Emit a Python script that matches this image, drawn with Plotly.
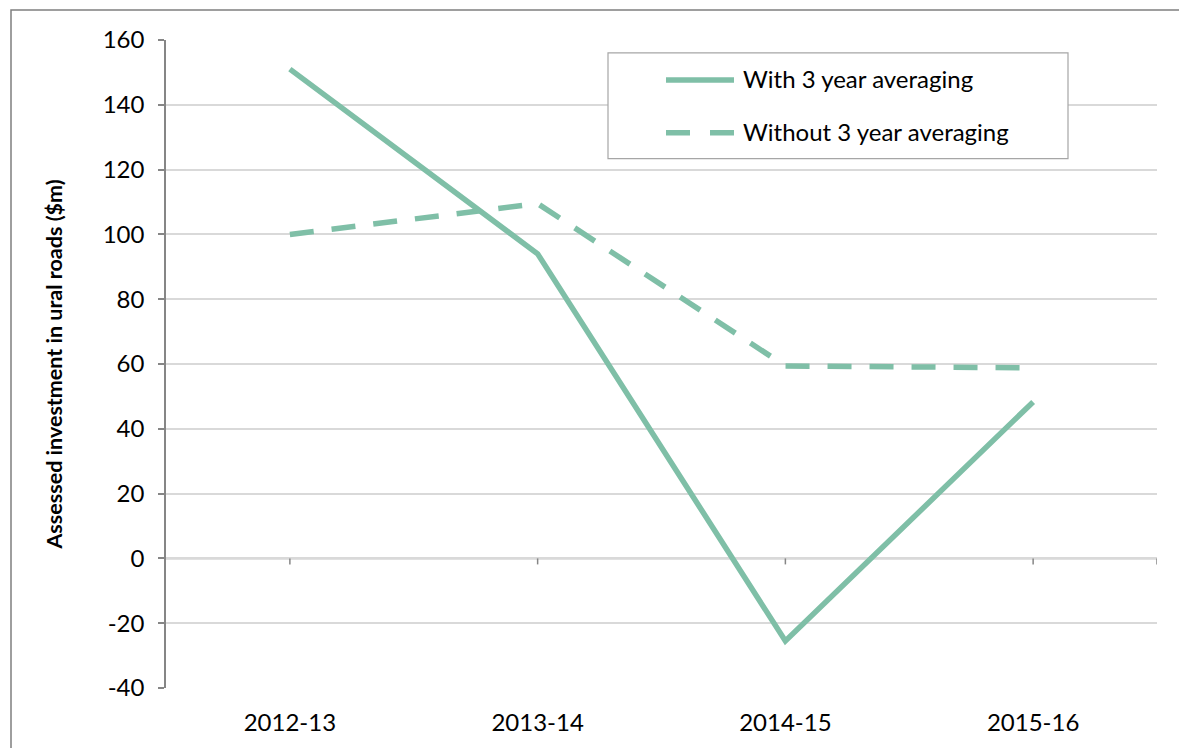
import plotly.graph_objects as go

# Financial years and assessed investment ($m)
years = ["2012-13", "2013-14", "2014-15", "2015-16"]
with_avg = [151, 94, -25.5, 48.3]
without_avg = [100, 109.5, 59.4, 58.8]
series_names = ["With 3 year averaging", "Without 3 year averaging"]
y_ticks = [-40, -20, 0, 20, 40, 60, 80, 100, 120, 140, 160]

GREEN = "#7fbfa7"
AXIS = "#868686"
GRID = "#d9d9d9"
FONT = "Lato, 'Open Sans', sans-serif"

W, H = 1179, 748
L, R, T, B = 166, 1157, 40, 690  # plot area edges in pixels


def px(x):
    """Pixel x -> paper (plot-area) fraction."""
    return (x - L) / (R - L)


def py(y):
    """Pixel y -> paper (plot-area) fraction."""
    return (B - y) / (B - T)


fig = go.Figure()
fig.add_trace(go.Scatter(
    x=years, y=with_avg, mode="lines", name=series_names[0],
    line=dict(color=GREEN, width=5.5), showlegend=False))
fig.add_trace(go.Scatter(
    x=years, y=without_avg, mode="lines", name=series_names[1],
    line=dict(color=GREEN, width=5.5, dash="24px,18px"), showlegend=False))

shapes = []
# x axis drawn along y = 0 with ticks at each category and at the right end
shapes.append(dict(type="line", xref="x", yref="y", x0=-0.5, x1=3.5, y0=0, y1=0,
                   line=dict(color=AXIS, width=1.5), layer="below"))
for xv in list(range(len(years))) + [3.5]:
    shapes.append(dict(type="line", xref="x", yref="y", ysizemode="pixel", yanchor=0,
                       x0=xv, x1=xv, y0=0, y1=-6, line=dict(color=AXIS, width=1.5)))

# Legend box with line samples
shapes.append(dict(type="rect", xref="paper", yref="paper",
                   x0=px(608), x1=px(1068), y0=py(159), y1=py(53),
                   line=dict(color="#a6a6a6", width=1.2), fillcolor="white"))
shapes.append(dict(type="line", xref="paper", yref="paper",
                   x0=px(666), x1=px(734), y0=py(80), y1=py(80),
                   line=dict(color=GREEN, width=5.5)))
shapes.append(dict(type="line", xref="paper", yref="paper",
                   x0=px(666), x1=px(734), y0=py(133), y1=py(133),
                   line=dict(color=GREEN, width=5.5, dash="24px,20px")))
# Outer frame of the figure
shapes.append(dict(type="rect", xref="paper", yref="paper",
                   x0=px(11), x1=px(1200), y0=py(770), y1=py(10),
                   line=dict(color="#7f7f7f", width=1.5)))

annotations = [
    dict(xref="paper", yref="paper", x=px(741), y=py(79), text=series_names[0],
         showarrow=False, xanchor="left", yanchor="middle",
         font=dict(family=FONT, size=24, color="black")),
    dict(xref="paper", yref="paper", x=px(741), y=py(132), text=series_names[1],
         showarrow=False, xanchor="left", yanchor="middle",
         font=dict(family=FONT, size=24, color="black")),
]

fig.update_layout(
    width=W, height=H,
    margin=dict(l=L, r=W - R, t=T, b=H - B),
    paper_bgcolor="white", plot_bgcolor="white",
    font=dict(family=FONT, size=24, color="black"),
    shapes=shapes, annotations=annotations,
)
fig.update_xaxes(
    type="category", range=[-0.5, 3.5], showgrid=False, showline=False,
    zeroline=False, ticks="", tickfont=dict(size=24), ticklabelstandoff=18)
fig.update_yaxes(
    range=[-40, 160], tickvals=y_ticks, ticktext=[str(v) for v in y_ticks],
    showgrid=True, gridcolor=GRID, gridwidth=1.5,
    zeroline=False, showline=True, linecolor=AXIS, linewidth=1.5,
    ticks="outside", ticklen=6, tickcolor=AXIS, tickwidth=1.5,
    tickfont=dict(size=24), ticklabelstandoff=9,
    title=dict(text="<b>Assessed investment in ural roads ($m)</b>",
               font=dict(size=21.5), standoff=34))

fig.write_html("out.html")
